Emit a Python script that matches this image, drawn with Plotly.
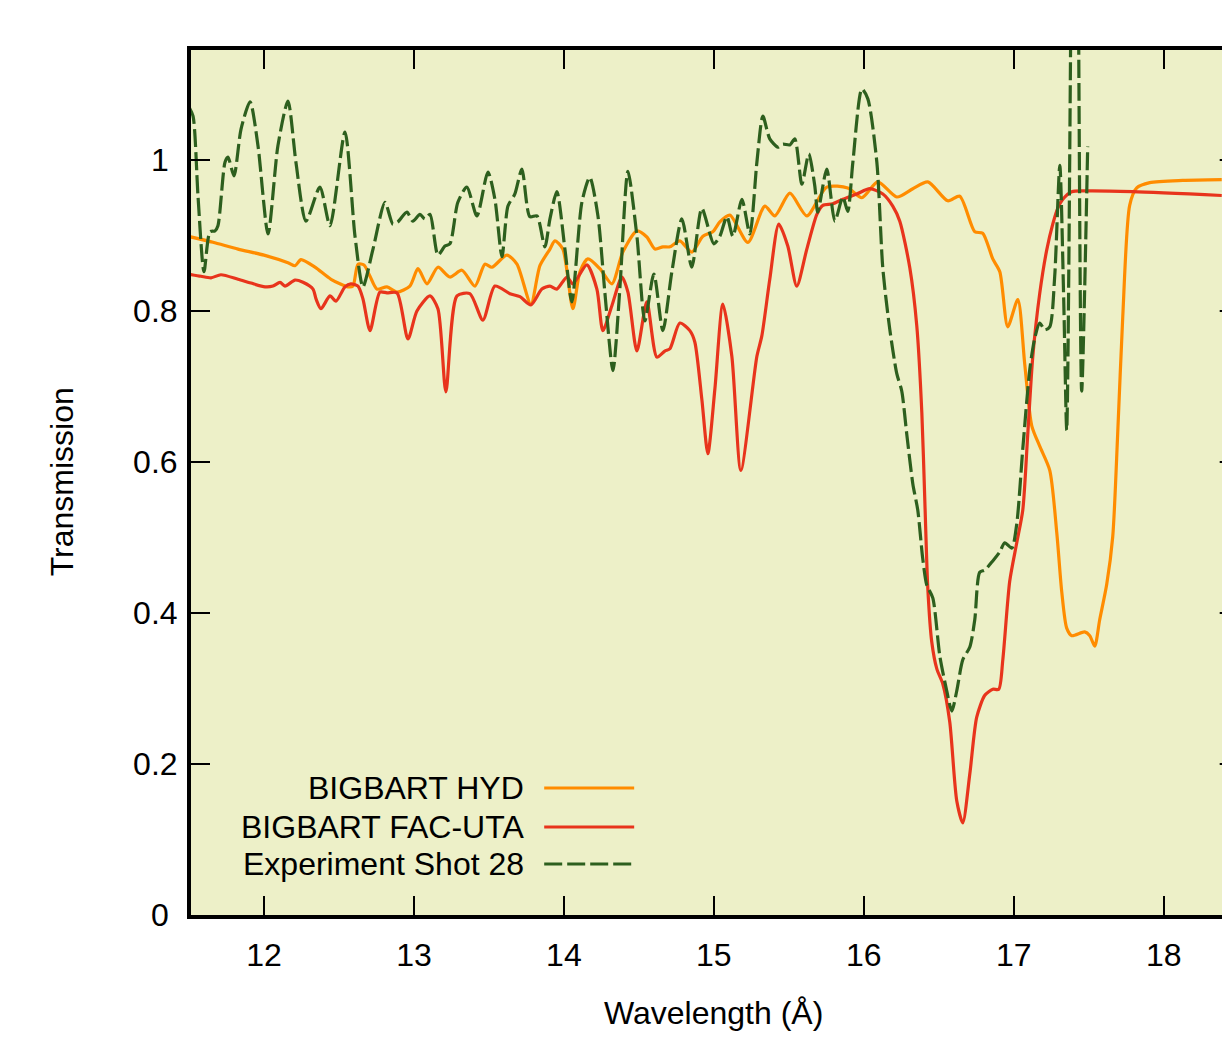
import plotly.graph_objects as go

# Wavelength grid (Angstrom) and transmission for each spectrum
hyd_wl = [11.493, 11.660, 11.827, 12.000, 12.160, 12.207, 12.247, 12.340, 12.447, 12.560,
          12.593, 12.627, 12.667, 12.707, 12.753, 12.820, 12.887, 12.973, 13.027, 13.087,
          13.160, 13.240, 13.320, 13.407, 13.473, 13.520, 13.620, 13.687, 13.780, 13.840,
          13.907, 13.940, 13.993, 14.060, 14.107, 14.160, 14.240, 14.320, 14.393, 14.487,
          14.553, 14.607, 14.660, 14.707, 14.773, 14.853, 14.927, 14.993, 15.040, 15.107,
          15.227, 15.340, 15.407, 15.507, 15.620, 15.753, 15.893, 15.987, 16.093, 16.220,
          16.327, 16.427, 16.560, 16.640, 16.740, 16.793, 16.860, 16.907, 16.960, 17.027,
          17.073, 17.120, 17.173, 17.240, 17.287, 17.320, 17.353, 17.387, 17.473, 17.507,
          17.540, 17.573, 17.620, 17.660, 17.693, 17.727, 17.773, 17.820, 17.907, 18.127,
          18.387]
hyd_tr = [0.899, 0.891, 0.882, 0.874, 0.864, 0.860, 0.868, 0.858, 0.842, 0.832,
          0.833, 0.862, 0.861, 0.846, 0.829, 0.832, 0.825, 0.833, 0.856, 0.836,
          0.858, 0.845, 0.854, 0.833, 0.862, 0.858, 0.874, 0.862, 0.809, 0.860,
          0.882, 0.893, 0.882, 0.803, 0.852, 0.869, 0.856, 0.836, 0.878, 0.906,
          0.898, 0.882, 0.885, 0.885, 0.893, 0.878, 0.899, 0.905, 0.918, 0.927,
          0.891, 0.939, 0.926, 0.956, 0.926, 0.964, 0.963, 0.950, 0.971, 0.951,
          0.962, 0.971, 0.946, 0.952, 0.905, 0.903, 0.869, 0.852, 0.779, 0.815,
          0.730, 0.648, 0.621, 0.589, 0.506, 0.428, 0.380, 0.370, 0.375, 0.370,
          0.356, 0.391, 0.438, 0.501, 0.637, 0.793, 0.940, 0.963, 0.970, 0.973,
          0.974]

fac_wl = [11.493, 11.580, 11.647, 11.713, 11.827, 11.913, 12.007, 12.060, 12.107, 12.140,
          12.207, 12.260, 12.327, 12.347, 12.380, 12.440, 12.480, 12.540, 12.580, 12.627,
          12.660, 12.707, 12.773, 12.820, 12.887, 12.960, 13.020, 13.107, 13.160, 13.213,
          13.287, 13.373, 13.460, 13.540, 13.640, 13.707, 13.780, 13.853, 13.907, 13.953,
          14.020, 14.060, 14.153, 14.220, 14.260, 14.320, 14.387, 14.427, 14.487, 14.553,
          14.620, 14.673, 14.707, 14.773, 14.840, 14.873, 14.920, 14.960, 15.007, 15.060,
          15.120, 15.180, 15.287, 15.320, 15.373, 15.433, 15.493, 15.553, 15.620, 15.687,
          15.727, 15.793, 15.860, 15.953, 16.040, 16.127, 16.193, 16.240, 16.307, 16.353,
          16.387, 16.407, 16.427, 16.453, 16.487, 16.527, 16.573, 16.620, 16.660, 16.707,
          16.753, 16.807, 16.860, 16.900, 16.927, 16.973, 17.020, 17.060, 17.093, 17.127,
          17.173, 17.220, 17.260, 17.293, 17.327, 17.387, 17.487, 17.793, 18.387]
fac_tr = [0.849, 0.846, 0.844, 0.848, 0.842, 0.837, 0.832, 0.833, 0.838, 0.833,
          0.841, 0.838, 0.829, 0.816, 0.803, 0.820, 0.813, 0.832, 0.836, 0.833,
          0.816, 0.774, 0.825, 0.824, 0.824, 0.763, 0.800, 0.820, 0.803, 0.693,
          0.820, 0.823, 0.788, 0.833, 0.823, 0.819, 0.808, 0.829, 0.833, 0.829,
          0.845, 0.836, 0.861, 0.829, 0.774, 0.807, 0.845, 0.825, 0.747, 0.812,
          0.739, 0.747, 0.750, 0.784, 0.774, 0.759, 0.683, 0.611, 0.697, 0.809,
          0.740, 0.589, 0.740, 0.767, 0.842, 0.915, 0.886, 0.833, 0.882, 0.928,
          0.940, 0.942, 0.948, 0.955, 0.962, 0.955, 0.939, 0.919, 0.857, 0.781,
          0.665, 0.548, 0.432, 0.362, 0.326, 0.306, 0.256, 0.151, 0.122, 0.187,
          0.262, 0.291, 0.299, 0.299, 0.338, 0.442, 0.493, 0.536, 0.636, 0.740,
          0.823, 0.881, 0.915, 0.936, 0.948, 0.958, 0.959, 0.958, 0.953]

exp_wl = [11.500, 11.527, 11.560, 11.600, 11.640, 11.673, 11.693, 11.740, 11.760, 11.800,
          11.847, 11.907, 11.960, 12.027, 12.093, 12.160, 12.213, 12.280, 12.373, 12.440,
          12.540, 12.607, 12.660, 12.727, 12.807, 12.860, 12.893, 12.953, 12.993, 13.040,
          13.073, 13.107, 13.160, 13.207, 13.240, 13.293, 13.353, 13.420, 13.493, 13.540,
          13.587, 13.627, 13.673, 13.720, 13.773, 13.820, 13.873, 13.907, 13.953, 14.007,
          14.053, 14.120, 14.173, 14.227, 14.273, 14.327, 14.373, 14.427, 14.487, 14.540,
          14.600, 14.660, 14.720, 14.787, 14.853, 14.920, 15.000, 15.040, 15.087, 15.127,
          15.187, 15.240, 15.287, 15.327, 15.373, 15.427, 15.460, 15.507, 15.540, 15.587,
          15.633, 15.673, 15.693, 15.753, 15.807, 15.860, 15.893, 15.927, 15.987, 16.027,
          16.087, 16.127, 16.173, 16.220, 16.253, 16.287, 16.327, 16.360, 16.393, 16.420,
          16.460, 16.507, 16.553, 16.587, 16.620, 16.660, 16.707, 16.740, 16.773, 16.807,
          16.860, 16.907, 16.940, 16.987, 17.020, 17.060, 17.107, 17.140, 17.173, 17.207,
          17.240, 17.273, 17.307, 17.333, 17.353, 17.383, 17.407, 17.430, 17.453, 17.493]
exp_tr = [1.070, 1.058, 0.952, 0.852, 0.905, 0.906, 0.913, 0.997, 1.004, 0.979,
          1.041, 1.077, 1.019, 0.902, 1.019, 1.078, 0.997, 0.919, 0.964, 0.913,
          1.037, 0.899, 0.832, 0.882, 0.944, 0.915, 0.918, 0.931, 0.919, 0.928,
          0.922, 0.928, 0.874, 0.886, 0.889, 0.944, 0.964, 0.926, 0.984, 0.948,
          0.872, 0.939, 0.955, 0.988, 0.925, 0.926, 0.885, 0.922, 0.958, 0.882,
          0.812, 0.944, 0.977, 0.926, 0.825, 0.721, 0.829, 0.985, 0.899, 0.787,
          0.849, 0.774, 0.852, 0.922, 0.858, 0.936, 0.889, 0.899, 0.925, 0.899,
          0.948, 0.902, 0.997, 1.058, 1.028, 1.017, 1.021, 1.020, 1.028, 0.968,
          1.008, 0.966, 0.931, 0.988, 0.919, 0.951, 0.932, 0.997, 1.094, 1.081,
          0.997, 0.856, 0.776, 0.717, 0.694, 0.636, 0.571, 0.536, 0.472, 0.437,
          0.420, 0.343, 0.297, 0.270, 0.297, 0.338, 0.355, 0.391, 0.454, 0.457,
          0.469, 0.481, 0.493, 0.486, 0.518, 0.617, 0.723, 0.764, 0.784, 0.775,
          0.779, 0.846, 0.993, 0.816, 0.642, 1.250, 1.850, 1.250, 0.694, 1.018]

series_names = ["BIGBART HYD", "BIGBART FAC-UTA", "Experiment Shot 28"]
x_ticks = [12, 13, 14, 15, 16, 17, 18]
y_ticks = [0, 0.2, 0.4, 0.6, 0.8, 1.0]
# integer labels carry a punctuation space so their digits sit left of the decimals' edge
y_tick_text = ["0\u2008", "0.2", "0.4", "0.6", "0.8", "1\u2008"]

ORANGE = "#ff8c00"
RED = "#e8341c"
GREEN = "#2d5f1e"
BG = "#edf0c8"
FONT = "Liberation Sans, Arial, sans-serif"
FS = 32
DASH = "18px,5px"
LW = 3.2

# Page geometry (pixels)
W, H = 1222, 1039
FRAME_L, FRAME_T, FRAME_B = 188.7, 48.0, 917.0   # frame line centres
PX_PER_X = 150.0                                  # pixels per Angstrom
PX_PER_Y = 755.0                                  # pixels per unit transmission
LINE_W = 4
ML = FRAME_L + LINE_W / 2
MT = FRAME_T + LINE_W / 2
PB = FRAME_B - LINE_W / 2                         # transmission 0 sits on this row
MB = H - PB

X_LO, X_HI_FULL = 11.5, 18.5                      # full span of the frame
x_range = [X_LO + (ML - FRAME_L) / PX_PER_X, X_LO + (W - FRAME_L) / PX_PER_X]
y_range = [0.0, (PB - MT) / PX_PER_Y]


def pxx(px):
    return (px - ML) / (W - ML)


def pxy(py):
    return (PB - py) / (PB - MT)


fig = go.Figure()
specs = [
    (hyd_wl, hyd_tr, ORANGE, "solid"),
    (fac_wl, fac_tr, RED, "solid"),
    (exp_wl, exp_tr, GREEN, DASH),
]
for (xs, ys, col, dash), name in zip(specs, series_names):
    fig.add_trace(go.Scatter(
        x=xs, y=ys, mode="lines", name=name, showlegend=False,
        line=dict(color=col, width=LW, dash=dash, shape="spline", smoothing=0.7),
    ))

# Key: right-aligned labels with line samples to their right
key_rows_px = [788, 827, 864]
for (xs, ys, col, dash), name, ky in zip(specs, series_names, key_rows_px):
    fig.add_annotation(x=pxx(526), y=pxy(ky), xref="paper", yref="paper", text=name,
                       showarrow=False, xanchor="right", yanchor="middle",
                       font=dict(family=FONT, size=FS, color="black"))
    fig.add_shape(type="line", xref="paper", yref="paper",
                  x0=pxx(544), x1=pxx(634), y0=pxy(ky), y1=pxy(ky),
                  line=dict(color=col, width=LW, dash=dash))

# Inward ticks of the right-hand frame edge
tick_len_units = 19 / PX_PER_X
for t in y_ticks[1:]:
    fig.add_shape(type="line", xref="x", yref="y",
                  x0=X_HI_FULL - tick_len_units, x1=X_HI_FULL, y0=t, y1=t,
                  line=dict(color="black", width=2))

# Axis titles
fig.add_annotation(x=pxx(62), y=pxy(482), xref="paper", yref="paper",
                   text="Transmission", textangle=-90, showarrow=False,
                   xanchor="center", yanchor="middle",
                   font=dict(family=FONT, size=FS, color="black"))
fig.add_annotation(x=pxx(713), y=pxy(1013), xref="paper", yref="paper",
                   text="Wavelength (Å)", showarrow=False,
                   xanchor="center", yanchor="middle",
                   font=dict(family=FONT, size=FS, color="black"))

fig.update_layout(
    width=W, height=H,
    margin=dict(l=ML, r=0, t=MT, b=MB, pad=0),
    paper_bgcolor="white", plot_bgcolor=BG,
    font=dict(family=FONT, size=FS, color="black"),
    showlegend=False,
)
fig.update_xaxes(
    range=x_range, tickvals=x_ticks,
    ticks="inside", ticklen=19, tickwidth=2, tickcolor="black",
    showline=True, linewidth=LINE_W, linecolor="black", mirror="ticks",
    showgrid=False, zeroline=False, ticklabelstandoff=9,
    tickfont=dict(family=FONT, size=FS, color="black"),
)
fig.update_yaxes(
    range=y_range, tickvals=y_ticks, ticktext=y_tick_text,
    ticks="inside", ticklen=19, tickwidth=2, tickcolor="black",
    showline=True, linewidth=LINE_W, linecolor="black", mirror=False,
    showgrid=False, zeroline=False, ticklabelstandoff=3,
    tickfont=dict(family=FONT, size=FS, color="black"),
)

fig.write_html("out.html")
